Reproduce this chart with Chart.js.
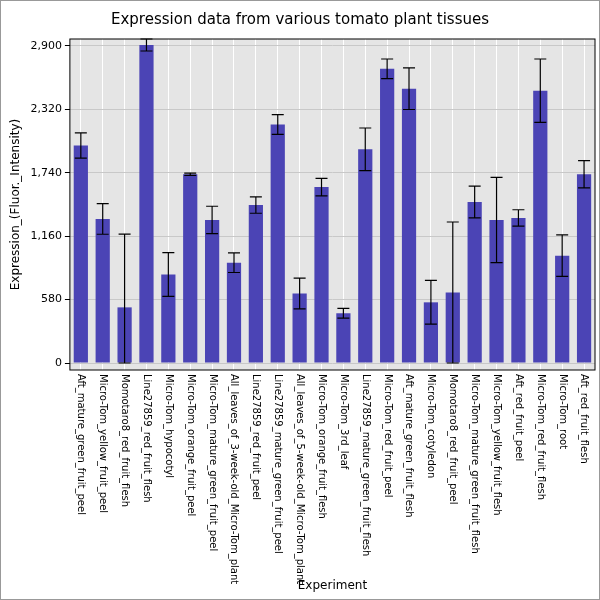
<!DOCTYPE html>
<html>
<head>
<script src="https://cdn.jsdelivr.net/npm/chart.js@4"></script>
<style>
body { margin: 0; background: #fff; }
#wrap { width: 598px; height: 598px; border: 1px solid #999; }
</style>
</head>
<body>
<div id="wrap"><canvas id="chart" width="598" height="598"></canvas></div>
<script>
const experiments = [
    'Aft_mature_green_fruit_peel', 'Micro-Tom_yellow_fruit_peel', 'Momotaro8_red_fruit_flesh',
    'Line27859_red_fruit_flesh', 'Micro-Tom_hypocotyl', 'Micro-Tom_orange_fruit_peel',
    'Micro-Tom_mature_green_fruit_peel', 'All_leaves_of_3-week-old_Micro-Tom_plant', 'Line27859_red_fruit_peel',
    'Line27859_mature_green_fruit_peel', 'All_leaves_of_5-week-old_Micro-Tom_plant', 'Micro-Tom_orange_fruit_flesh',
    'Micro-Tom_3rd_leaf', 'Line27859_mature_green_fruit_flesh', 'Micro-Tom_red_fruit_peel',
    'Aft_mature_green_fruit_flesh', 'Micro-Tom_cotyledon', 'Momotaro8_red_fruit_peel',
    'Micro-Tom_mature_green_fruit_flesh', 'Micro-Tom_yellow_fruit_flesh', 'Aft_red_fruit_peel',
    'Micro-Tom_red_fruit_flesh', 'Micro-Tom_root', 'Aft_red_fruit_flesh'
];
const expression = [1990, 1318, 509, 2909, 809, 1727, 1309, 918, 1445, 2182, 636, 1609,
    455, 1955, 2691, 2509, 555, 645, 1473, 1309, 1327, 2491, 982, 1727];
const errors = [115, 140, 670, 55, 200, 10, 125, 90, 75, 90, 140, 80,
    45, 195, 90, 190, 200, 645, 145, 390, 75, 290, 190, 125];
const yTicks = [0, 580, 1160, 1740, 2320, 2900];

const extras = {
    id: 'extras',
    beforeDraw(chart) {
        const { ctx, chartArea: a } = chart;
        ctx.save();
        ctx.fillStyle = '#e5e5e5';
        ctx.fillRect(a.left, a.top, a.right - a.left, a.bottom - a.top);
        ctx.restore();
    },
    afterDatasetsDraw(chart) {
        const { ctx, scales: { x, y } } = chart;
        ctx.save();
        ctx.strokeStyle = '#000';
        ctx.lineWidth = 1.2;
        expression.forEach((v, i) => {
            const cx = x.getPixelForValue(i);
            const hi = y.getPixelForValue(v + errors[i]);
            const lo = y.getPixelForValue(Math.max(v - errors[i], 0));
            ctx.beginPath();
            ctx.moveTo(cx, hi); ctx.lineTo(cx, lo);
            ctx.moveTo(cx - 6, hi); ctx.lineTo(cx + 6, hi);
            ctx.moveTo(cx - 6, lo); ctx.lineTo(cx + 6, lo);
            ctx.stroke();
        });
        ctx.restore();
    },
    afterDraw(chart) {
        const { ctx, chartArea: a, scales: { x } } = chart;
        ctx.save();
        ctx.strokeStyle = '#000';
        ctx.strokeRect(a.left, a.top, a.right - a.left, a.bottom - a.top);
        ctx.fillStyle = '#000';
        ctx.font = '10px "DejaVu Sans"';
        ctx.textAlign = 'left';
        ctx.textBaseline = 'middle';
        experiments.forEach((label, i) => {
            const cx = x.getPixelForValue(i);
            ctx.save();
            ctx.translate(cx, a.bottom + 4);
            ctx.rotate(Math.PI / 2);
            ctx.fillText(label, 0, 0);
            ctx.restore();
        });
        ctx.font = '12px "DejaVu Sans"';
        ctx.textAlign = 'center';
        ctx.fillText('Experiment', (a.left + a.right) / 2, 585);
        ctx.restore();
    }
};

new Chart(document.getElementById('chart'), {
    type: 'bar',
    data: {
        labels: experiments,
        datasets: [{ data: expression, backgroundColor: '#4b44b5', categoryPercentage: 1, barPercentage: 0.65 }]
    },
    options: {
        responsive: false,
        animation: false,
        layout: { padding: { top: 0, right: 4, bottom: 225, left: 4 } },
        plugins: {
            legend: { display: false },
            tooltip: { enabled: false },
            title: {
                display: true, text: 'Expression data from various tomato plant tissues',
                color: '#000', font: { family: 'DejaVu Sans', size: 15, weight: 'normal' },
                padding: { top: 10, bottom: 10 }
            }
        },
        scales: {
            x: {
                ticks: { display: false },
                grid: { color: '#fff', offset: false, drawTicks: true, tickLength: 4 },
                border: { display: false }
            },
            y: {
                min: -64, max: 2964,
                afterBuildTicks(axis) { axis.ticks = yTicks.map(v => ({ value: v })); },
                ticks: { color: '#000', font: { family: 'DejaVu Sans', size: 11 } },
                grid: { color: '#c8c8c8', tickColor: '#000', tickLength: 5 },
                border: { display: false },
                title: {
                    display: true, text: 'Expression_(Fluor._Intensity)', color: '#000',
                    font: { family: 'DejaVu Sans', size: 12 }
                }
            }
        }
    },
    plugins: [extras]
});
</script>
</body>
</html>
